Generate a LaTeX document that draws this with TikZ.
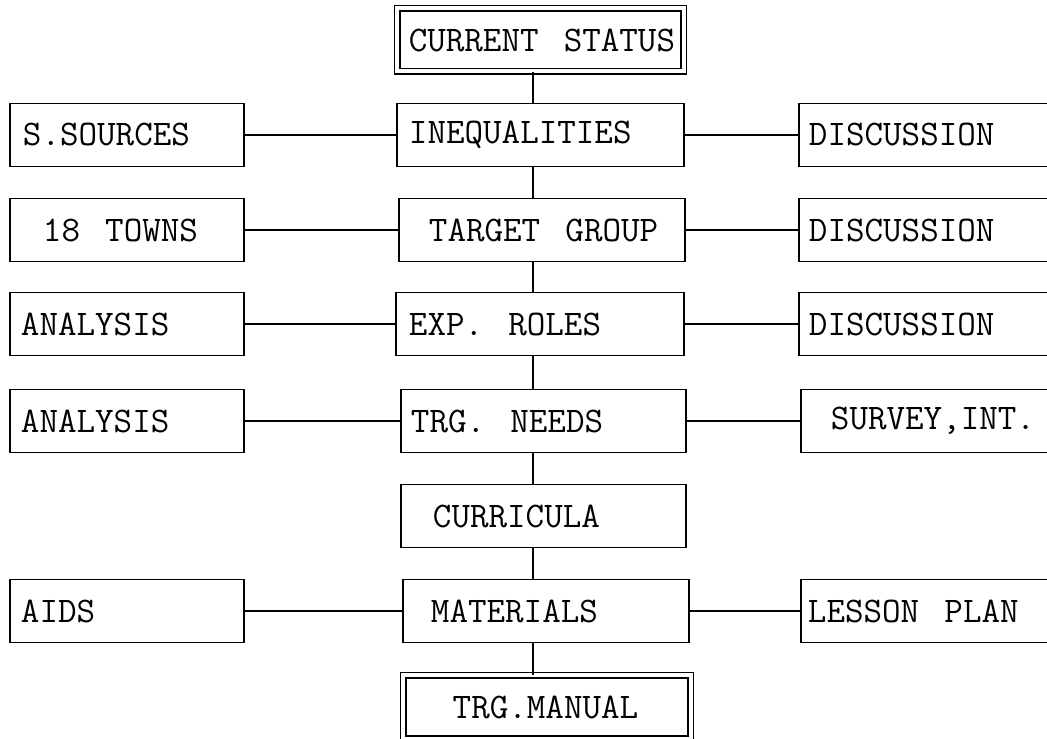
\documentclass[tikz,border=0pt]{standalone}
\usepackage{fontspec}
\def\unit{0.02cm}
\newcommand\wsp{\hspace*{0.7em}}
\tikzset{
  blk/.style={draw, rectangle, line width=1.1pt, anchor=west, minimum height=1.26cm,
    inner xsep=0pt, inner ysep=0pt, align=left, font=\fontsize{20.5}{22}\selectfont\ttfamily},
  dblk/.style={blk, double, double distance=0.08cm, line width=0.03cm},
  link/.style={line width=1.1pt},
}

\begin{document}
\begin{tikzpicture}[x=\unit, y=-\unit]
      \clip (0,0) rectangle (1047,739);
      \coordinate (spine) at (533,0);
      \node[dblk, text width=5.73cm] (cur) at (396.5,40) {\hspace*{0.23cm}CURRENT\wsp STATUS};
      \node[blk, text width=4.68cm] (ss) at (9,135) {\hspace*{0.26cm}S.SOURCES};
      \node[blk, text width=5.74cm] (ineq) at (396,135) {\hspace*{0.24cm}INEQUALITIES};
      \node[blk, text width=5.44cm] (d1) at (798,135) {\hspace*{0.20cm}DISCUSSION};
      \node[blk, text width=4.68cm] (towns) at (9,230) {\hspace*{0.66cm}18\wsp TOWNS};
      \node[blk, text width=5.72cm] (tgt) at (398,230) {\hspace*{0.60cm}TARGET\wsp GROUP};
      \node[blk, text width=5.44cm] (d2) at (798,230) {\hspace*{0.20cm}DISCUSSION};
      \node[blk, text width=4.68cm] (an1) at (9,324) {\hspace*{0.22cm}ANALYSIS};
      \node[blk, text width=5.76cm] (exp) at (395,324) {\hspace*{0.26cm}EXP.\wsp ROLES};
      \node[blk, text width=5.44cm] (d3) at (798,324) {\hspace*{0.20cm}DISCUSSION};
      \node[blk, text width=4.68cm] (an2) at (9,421) {\hspace*{0.22cm}ANALYSIS};
      \node[blk, text width=5.70cm] (need) at (400,421) {\hspace*{0.20cm}TRG.\wsp NEEDS};
      \node[blk, text width=5.40cm] (surv) at (800,421) {\hspace*{0.60cm}SURVEY,INT.};
      \node[blk, text width=5.70cm] (curr) at (400,516) {\hspace*{0.64cm}CURRICULA};
      \node[blk, text width=4.68cm] (aids) at (9,611) {\hspace*{0.22cm}AIDS};
      \node[blk, text width=5.72cm] (mat) at (402,611) {\hspace*{0.56cm}MATERIALS};
      \node[blk, text width=5.40cm] (lesson) at (800,611) {\hspace*{0.14cm}LESSON\wsp PLAN};
      \node[dblk, text width=5.75cm, minimum height=1.27cm] (man) at (402.5,707) {\hspace*{0.99cm}TRG.MANUAL};
      \foreach \a/\b in {cur/ineq, ineq/tgt, tgt/exp, exp/need, need/curr, curr/mat, mat/man}
        \draw[link] (\a.south -| spine) -- (\b.north -| spine);
      \foreach \a/\b in {ss/ineq, towns/tgt, an1/exp, an2/need, aids/mat,
                         ineq/d1, tgt/d2, exp/d3, need/surv, mat/lesson}
        \draw[link] (\a.east) -- (\b.west);
    \end{tikzpicture}
\end{document}
